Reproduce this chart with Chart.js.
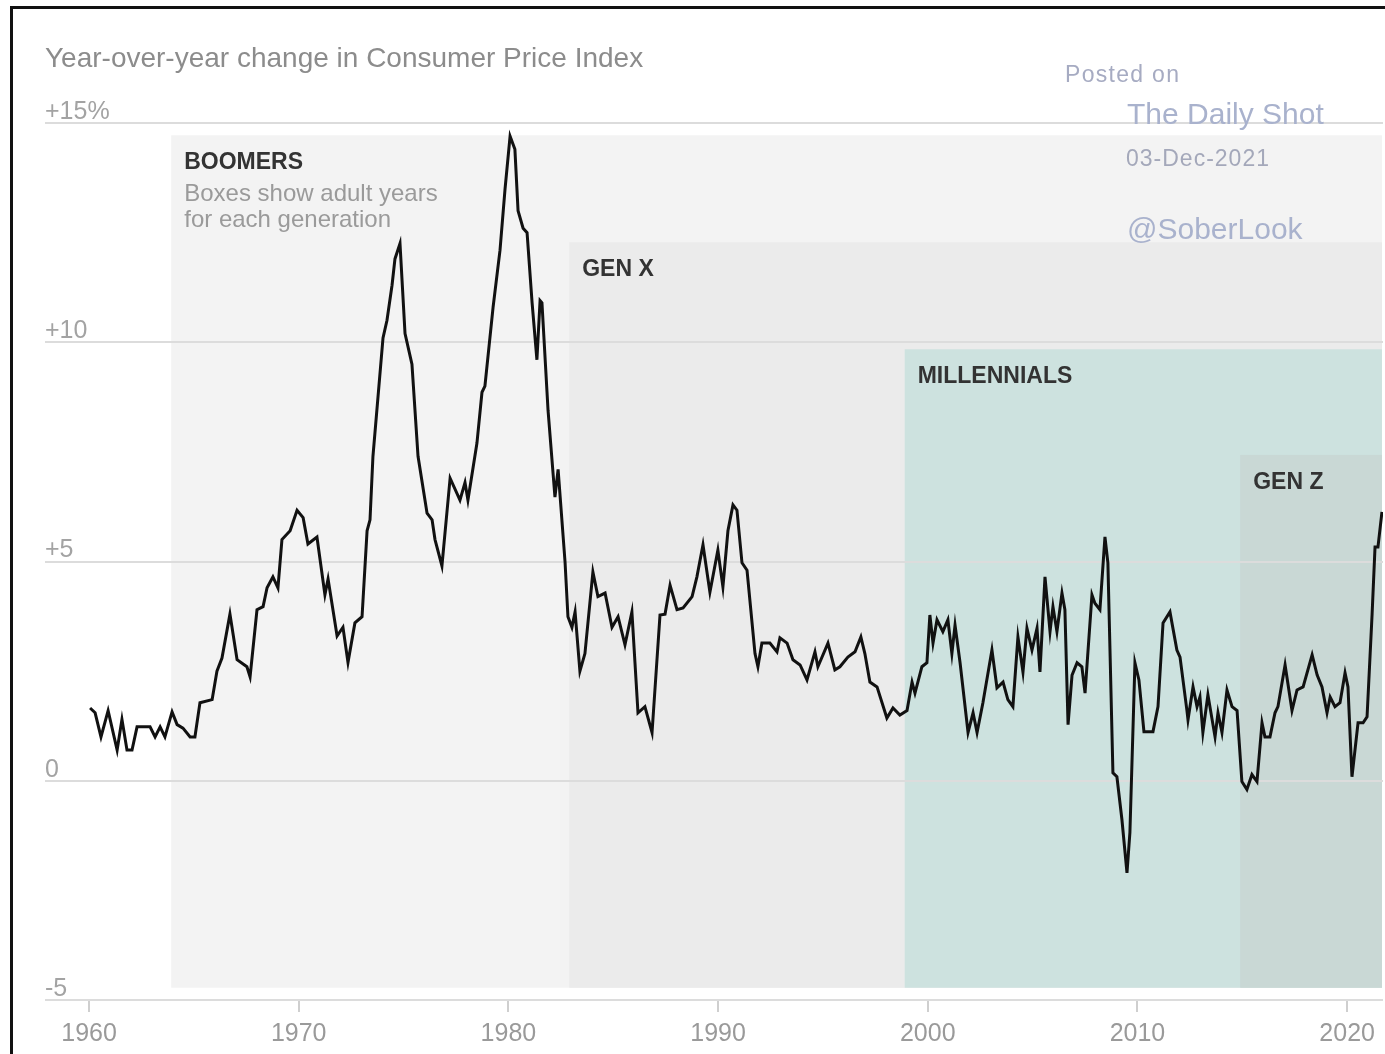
<!DOCTYPE html>
<html><head><meta charset="utf-8">
<script src="https://cdn.jsdelivr.net/npm/chart.js@4"></script>
<style>
html,body{margin:0;padding:0;background:#fff;}
#wrap{position:relative;width:1385px;height:1054px;overflow:hidden;}
#frame{position:absolute;left:10px;top:6px;width:1400px;height:1100px;border-left:3px solid #111;border-top:3px solid #111;pointer-events:none;}
canvas{position:absolute;left:0;top:0;}
</style></head><body>
<div id="wrap"><canvas id="c" width="1385" height="1054"></canvas><div id="frame"></div></div>
<script>
// ---- DATA ----
const titleText = 'Year-over-year change in Consumer Price Index';
const years = [
1960.05,1960.29,1960.57,1960.91,1961.34,1961.57,1961.81,1962.05,1962.29,1962.91,1963.15,1963.39,1963.62,1963.96,
1964.20,1964.48,1964.82,1965.05,1965.29,1965.87,1966.10,1966.34,1966.72,1967.06,1967.53,1967.68,1968.01,1968.30,
1968.49,1968.77,1969.01,1969.20,1969.59,1969.92,1970.21,1970.44,1970.87,1971.25,1971.40,1971.83,1972.11,1972.35,
1972.68,1973.02,1973.26,1973.40,1973.54,1974.02,1974.21,1974.45,1974.59,1974.83,1975.07,1975.40,1975.69,1976.12,
1976.36,1976.50,1976.83,1977.22,1977.69,1977.93,1978.07,1978.50,1978.74,1978.88,1979.27,1979.60,1979.84,1980.08,
1980.31,1980.46,1980.70,1980.89,1981.13,1981.36,1981.51,1981.60,1981.89,1982.22,1982.37,1982.70,1982.84,1983.03,
1983.18,1983.41,1983.65,1984.03,1984.27,1984.61,1984.94,1985.23,1985.56,1985.89,1986.18,1986.51,1986.85,1987.23,
1987.47,1987.71,1988.04,1988.33,1988.76,1988.99,1989.28,1989.61,1989.99,1990.23,1990.47,1990.71,1990.90,1991.14,
1991.38,1991.76,1991.90,1992.09,1992.47,1992.81,1992.95,1993.29,1993.57,1993.91,1994.24,1994.62,1994.76,1995.24,
1995.57,1995.81,1996.19,1996.53,1996.81,1997.00,1997.24,1997.58,1998.05,1998.34,1998.67,1999.01,1999.25,1999.39,
1999.72,1999.96,2000.10,2000.25,2000.44,2000.72,2000.96,2001.15,2001.30,2001.54,2001.92,2002.16,2002.35,2002.63,
2003.06,2003.30,2003.59,2003.82,2004.06,2004.30,2004.54,2004.73,2004.97,2005.21,2005.35,2005.59,2005.83,2005.97,
2006.16,2006.40,2006.54,2006.69,2006.88,2007.12,2007.35,2007.50,2007.83,2007.97,2008.21,2008.45,2008.59,2008.83,
2009.02,2009.26,2009.50,2009.64,2009.88,2010.07,2010.31,2010.74,2010.98,2011.22,2011.55,2011.88,2012.03,2012.36,
2012.41,2012.65,2012.84,2012.98,2013.12,2013.36,2013.70,2013.84,2014.03,2014.27,2014.51,2014.75,2014.98,2015.22,
2015.46,2015.70,2015.94,2016.08,2016.32,2016.56,2016.70,2017.04,2017.37,2017.61,2017.90,2018.33,2018.57,2018.80,
2019.04,2019.19,2019.42,2019.66,2019.90,2020.04,2020.23,2020.52,2020.76,2020.95,2021.19,2021.33,2021.47,2021.66
];
const cpi = [
1.66,1.55,1.0,1.6,0.7,1.4,0.7,0.7,1.23,1.23,1.0,1.23,1.0,1.57,
1.28,1.2,1.0,1.0,1.78,1.85,2.5,2.8,3.8,2.76,2.6,2.37,3.9,3.97,
4.4,4.65,4.4,5.5,5.7,6.17,6.0,5.4,5.56,4.24,4.6,3.3,3.5,2.7,
3.6,3.74,5.7,5.95,7.4,10.1,10.5,11.3,11.9,12.25,10.2,9.5,7.4,6.1,
5.95,5.5,4.9,6.9,6.4,6.8,6.4,7.7,8.86,9.0,10.8,12.1,13.5,14.7,
14.4,13.0,12.6,12.5,10.9,9.6,10.95,10.9,8.45,6.47,7.1,5.0,3.74,3.5,
3.85,2.5,2.9,4.76,4.2,4.28,3.5,3.74,3.1,3.85,1.55,1.69,1.1,3.78,
3.8,4.46,3.9,3.94,4.2,4.65,5.38,4.3,5.26,4.42,5.7,6.29,6.17,4.97,
4.8,2.9,2.6,3.14,3.14,2.94,3.26,3.14,2.76,2.64,2.3,2.94,2.6,3.14,
2.53,2.6,2.82,2.94,3.28,2.9,2.25,2.14,1.43,1.66,1.5,1.6,2.25,2.0,
2.6,2.69,3.78,3.14,3.67,3.4,3.67,2.9,3.55,2.69,1.1,1.55,1.1,1.78,
2.98,2.12,2.25,1.85,1.69,3.28,2.48,3.48,2.98,3.48,2.48,4.65,3.4,3.97,
3.4,4.28,3.9,1.28,2.41,2.69,2.6,2.0,4.24,4.05,3.9,5.56,4.97,0.18,
0.09,-0.89,-2.1,-1.18,2.69,2.3,1.12,1.12,1.69,3.6,3.85,2.98,2.82,1.6,
1.39,2.14,1.69,1.91,1.1,1.96,1.0,1.55,1.1,2.07,1.69,1.6,-0.02,-0.2,
0.14,-0.02,1.32,1.0,1.0,1.55,1.69,2.64,1.6,2.07,2.14,2.87,2.41,2.14,
1.55,1.91,1.69,1.78,2.46,2.14,0.09,1.32,1.32,1.46,3.8,5.33,5.33,6.13
];
const xTicks = [1960,1970,1980,1990,2000,2010,2020];
const yTicks = [-5,0,5,10,15];
const yTickLabels = ['-5','0','+5','+10','+15%'];
const genNames = ['BOOMERS','GEN X','MILLENNIALS','GEN Z'];
const genStart = [1963.92,1982.9,1998.9,2014.9];
const genTop = [14.72,12.28,9.84,7.43];
const genBottom = -4.72;
const genEnd = 2021.66;
const noteLines = ['Boxes show adult years','for each generation'];
const sourceLines = ['Posted on','The Daily Shot','03-Dec-2021','@SoberLook'];

// ---- STYLE ----
const FONT = '"Liberation Sans", Arial, sans-serif';
const genColors = ['#f3f3f3','#ebebeb','#cde2df','#c9d8d5'];

const boxesPlugin = {
  id: 'boxes',
  beforeDraw(chart) {
    const ctx = chart.ctx, xs = chart.scales.x, ys = chart.scales.y;
    ctx.save();
    genStart.forEach((s, i) => {
      const l = xs.getPixelForValue(s), r = xs.getPixelForValue(genEnd);
      const t = ys.getPixelForValue(genTop[i]), b = ys.getPixelForValue(genBottom);
      ctx.fillStyle = genColors[i];
      ctx.fillRect(l, t, r - l, b - t);
    });
    ctx.restore();
  },
  afterDraw(chart) {
    const ctx = chart.ctx, xs = chart.scales.x, ys = chart.scales.y;
    ctx.save();
    ctx.textBaseline = 'alphabetic';
    ctx.textAlign = 'left';
    ctx.fillStyle = '#8c8c8c';
    ctx.font = '28px ' + FONT;
    ctx.fillText(titleText, chart.chartArea.left, 67);
    genStart.forEach((s, i) => {
      const l = xs.getPixelForValue(s), t = ys.getPixelForValue(genTop[i]);
      ctx.fillStyle = '#333';
      ctx.font = 'bold 23px ' + FONT;
      ctx.fillText(genNames[i], l + 13, t + 34);
      if (i === 0) {
        ctx.fillStyle = '#9a9a9a';
        ctx.font = '24px ' + FONT;
        noteLines.forEach((ln, k) => ctx.fillText(ln, l + 13, t + 66 + k * 26));
      }
    });
    ctx.fillStyle = '#a6abc2';
    ctx.font = '23px ' + FONT;
    ctx.letterSpacing = '1.3px';
    ctx.fillText(sourceLines[0], 1065, 82);
    ctx.letterSpacing = '1px';
    ctx.fillStyle = '#a4a8ba';
    ctx.fillText(sourceLines[2], 1126, 166);
    ctx.letterSpacing = '0px';
    ctx.fillStyle = '#a9b2cd';
    ctx.font = '30px ' + FONT;
    ctx.fillText(sourceLines[1], 1127, 124);
    ctx.fillText(sourceLines[3], 1127, 239);
    ctx.restore();
  }
};

new Chart(document.getElementById('c'), {
  type: 'line',
  data: {
    datasets: [{
      data: years.map((x, i) => ({ x: x, y: cpi[i] })),
      borderColor: '#111',
      borderWidth: 3,
      pointRadius: 0,
      tension: 0,
      fill: false
    }]
  },
  options: {
    responsive: false,
    animation: false,
    layout: { padding: { left: 45, right: 2, top: 123, bottom: 0 } },
    plugins: { legend: { display: false }, tooltip: { enabled: false } },
    scales: {
      x: {
        type: 'linear',
        min: 1957.9,
        max: 2021.71,
        afterBuildTicks: (axis) => { axis.ticks = xTicks.map(v => ({ value: v })); },
        afterFit: (axis) => { axis.height = 54; },
        border: { display: false },
        grid: { drawOnChartArea: false, drawTicks: true, tickLength: 12, color: '#cfcfcf', lineWidth: 2 },
        ticks: { padding: 7, color: '#9a9a9a', font: { size: 25, family: FONT }, maxRotation: 0,
                 callback: (v) => String(v) }
      },
      y: {
        type: 'linear',
        min: -5,
        max: 15,
        afterBuildTicks: (axis) => { axis.ticks = yTicks.map(v => ({ value: v })); },
        afterFit: (axis) => { axis.width = 0; },
        border: { display: false },
        grid: { color: '#dcdcdc', lineWidth: 2, drawTicks: false },
        ticks: { mirror: true, padding: 0, labelOffset: -11, color: '#a3a3a3', font: { size: 25, family: FONT },
                 callback: (v) => yTickLabels[yTicks.indexOf(v)] }
      }
    }
  },
  plugins: [boxesPlugin]
});
</script>
</body></html>
